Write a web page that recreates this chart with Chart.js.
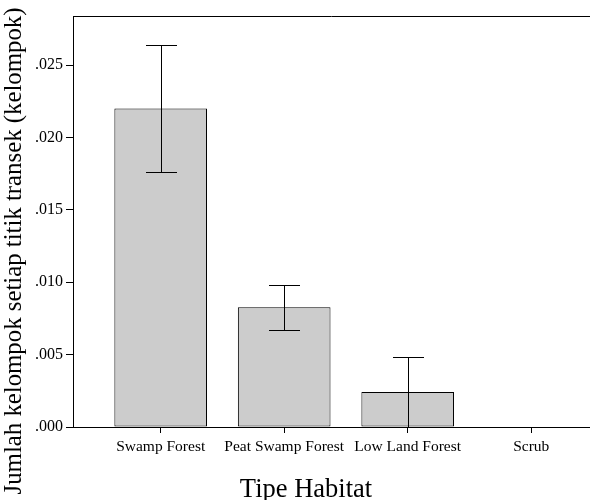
<!DOCTYPE html>
<html>
<head>
<meta charset="utf-8">
<title>Tipe Habitat</title>
<script src="https://cdn.jsdelivr.net/npm/chart.js@4.4.1/dist/chart.umd.min.js"></script>
<style>
    html, body { margin: 0; padding: 0; background: #ffffff; overflow: hidden; }
    #chart { display: block; }
</style>
</head>
<body>
<canvas id="chart" width="590" height="500"></canvas>
<script>
// Data
const habitats = ["Swamp Forest", "Peat Swamp Forest", "Low Land Forest", "Scrub"];
const meanGroups = [0.0220, 0.00827, 0.00242, 0.0];
const errUpper = [0.02637, 0.00979, 0.00481, 0.0];
const errLower = [0.01763, 0.00673, 0.0, 0.0];
const yTicks = [0, 0.005, 0.010, 0.015, 0.020, 0.025];

const xTitle = "Tipe Habitat";
const yTitle = "Jumlah kelompok setiap titik transek (kelompok)";

Chart.defaults.font.family = "'Liberation Serif', 'Times New Roman', serif";
Chart.defaults.color = '#000000';

// Draws the error bars, the top frame line and the axis titles
const extrasPlugin = {
    id: 'extras',
    afterDatasetsDraw(chart) {
        const ctx = chart.ctx;
        const xs = chart.scales.x;
        const ys = chart.scales.y;
        const area = chart.chartArea;

        ctx.save();
        ctx.strokeStyle = '#000000';
        ctx.lineWidth = 1;

        // error bars
        for (let i = 0; i < habitats.length; i++) {
            if (errUpper[i] === errLower[i]) continue;
            const x = Math.round(xs.getPixelForValue(i)) + 0.5;
            const top = Math.round(ys.getPixelForValue(errUpper[i])) + 0.5;
            const bot = Math.round(ys.getPixelForValue(errLower[i])) + 0.5;
            ctx.beginPath();
            ctx.moveTo(x, top);
            ctx.lineTo(x, bot);
            ctx.moveTo(x - 15.5, top);
            ctx.lineTo(x + 15.5, top);
            ctx.moveTo(x - 15.5, bot);
            ctx.lineTo(x + 15.5, bot);
            ctx.stroke();
        }

        // top frame line
        ctx.beginPath();
        ctx.moveTo(area.left, Math.round(area.top) + 0.5);
        ctx.lineTo(area.right, Math.round(area.top) + 0.5);
        ctx.stroke();
        ctx.restore();
    },
    afterDraw(chart) {
        const ctx = chart.ctx;
        ctx.save();
        ctx.fillStyle = '#000000';
        ctx.textAlign = 'center';
        ctx.textBaseline = 'alphabetic';
        ctx.font = "26.5px 'Liberation Serif'";
        ctx.fillText(xTitle, 306, 497);

        ctx.font = "24.8px 'Liberation Serif'";
        ctx.translate(21, 251);
        ctx.rotate(-Math.PI / 2);
        ctx.fillText(yTitle, 0, 0);
        ctx.restore();
    }
};

new Chart(document.getElementById('chart'), {
    type: 'bar',
    data: {
        datasets: [{
            data: meanGroups.map((v, i) => ({ x: i, y: v })),
            backgroundColor: '#cccccc',
            borderColor: '#000000',
            borderWidth: 1,
            borderSkipped: false,
            categoryPercentage: 0.75,
            barPercentage: 1.0
        }]
    },
    options: {
        responsive: false,
        animation: false,
        layout: { padding: { top: 16, right: 0, bottom: 0, left: 0 } },
        plugins: {
            legend: { display: false },
            tooltip: { enabled: false }
        },
        scales: {
            x: {
                type: 'linear',
                offset: false,
                min: -0.71,
                max: 3.476,
                afterBuildTicks: (axis) => {
                    axis.ticks = habitats.map((h, i) => ({ value: i }));
                },
                afterFit: (axis) => { axis.height = 73; },
                grid: {
                    offset: false,
                    drawOnChartArea: false,
                    drawTicks: true,
                    tickLength: 6,
                    color: '#000000'
                },
                border: { display: true, color: '#000000', width: 1 },
                ticks: {
                    autoSkip: false,
                    maxRotation: 0,
                    padding: 5,
                    font: { size: 15.5 },
                    callback: (value) => habitats[value]
                }
            },
            y: {
                type: 'linear',
                min: 0,
                max: 0.0284,
                afterBuildTicks: (axis) => {
                    axis.ticks = yTicks.map(v => ({ value: v }));
                },
                afterFit: (axis) => { axis.width = 73; },
                grid: {
                    drawOnChartArea: false,
                    drawTicks: true,
                    tickLength: 7,
                    color: '#000000'
                },
                border: { display: true, color: '#000000', width: 1 },
                ticks: {
                    padding: 3,
                    font: { size: 16 },
                    callback: (value) => value.toFixed(3).replace(/^0/, '')
                }
            }
        }
    },
    plugins: [extrasPlugin]
});
</script>
</body>
</html>
